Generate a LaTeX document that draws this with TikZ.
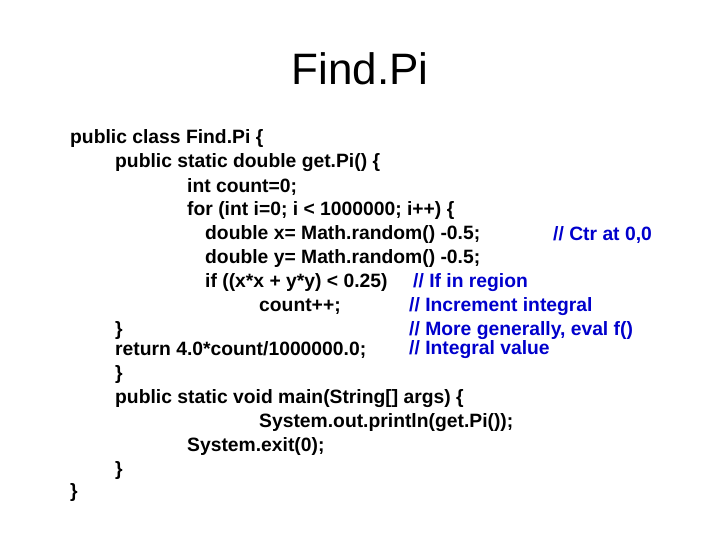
\documentclass[tikz,border=0pt]{standalone}
\usepackage{fontspec}
\setmainfont{Liberation Sans}
\begin{document}
\begin{tikzpicture}[x=1pt,y=-1pt,
  code/.style={anchor=west,inner sep=0pt,font=\fontsize{19.3}{21}\selectfont\bfseries},
  cmt/.style={code,text={rgb,255:red,0;green,0;blue,204}}]
\useasboundingbox (0,0) rectangle (720,540);
\node[inner sep=0pt,font=\fontsize{44}{48}\selectfont] (title) at (360,69) {Find.Pi};
\node[code] (l1) at (70,139) {public class Find.Pi \{};
\node[code] (l2) at (115,163) {public static double get.Pi() \{};
\node[code] (l3) at (187,187) {int count=0;};
\node[code] (l4) at (187,211) {for (int i=0; i < 1000000; i++) \{};
\node[code] (l5) at (205,235) {double x= Math.random() -0.5;};
\node[cmt] (c5) at (553,235) {// Ctr at 0,0};
\node[code] (l6) at (205,259) {double y= Math.random() -0.5;};
\node[code] (l7) at (205,283) {if ((x*x + y*y) < 0.25)};
\node[cmt] (c7) at (413,283) {// If in region};
\node[code] (l8) at (259,307) {count++;};
\node[cmt] (c8) at (409,307) {// Increment integral};
\node[code] (l9) at (115,331) {\}};
\node[cmt] (c9) at (409,331) {// More generally, eval f()};
\node[code] (l10) at (115,350) {return 4.0*count/1000000.0;};
\node[cmt] (c10) at (409,350) {// Integral value};
\node[code] (l11) at (115,375) {\}};
\node[code] (l12) at (115,399) {public static void main(String[] args) \{};
\node[code] (l13) at (259,423) {System.out.println(get.Pi());};
\node[code] (l14) at (187,447) {System.exit(0);};
\node[code] (l15) at (115,471) {\}};
\node[code] (l16) at (70,493) {\}};
\end{tikzpicture}
\end{document}
